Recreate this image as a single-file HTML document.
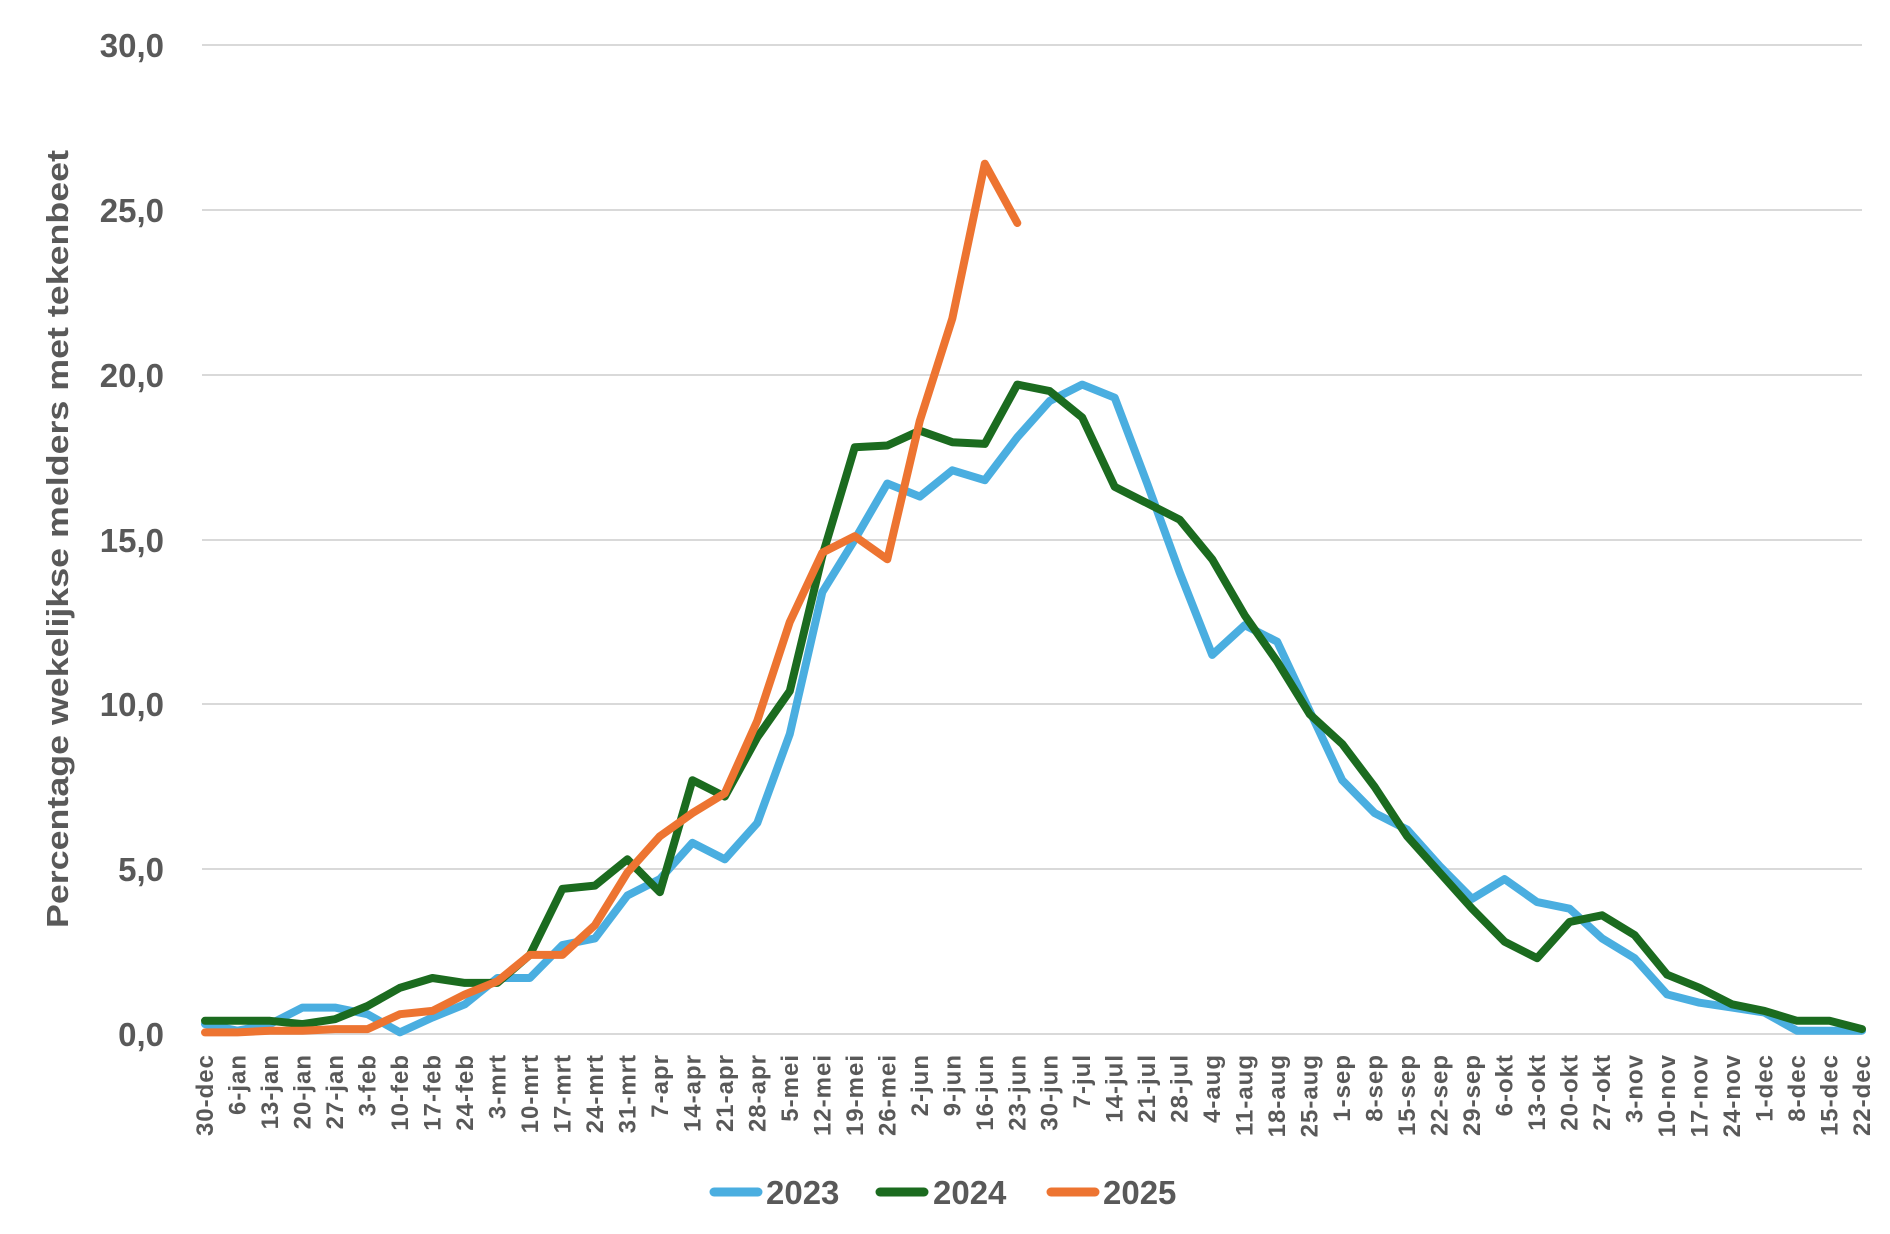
<!DOCTYPE html>
<html><head><meta charset="utf-8"><style>
html,body{margin:0;padding:0;background:#fff;}
svg{display:block;font-family:"Liberation Sans",sans-serif;}
</style></head><body>
<svg id="s" width="1890" height="1234" xmlns="http://www.w3.org/2000/svg">
<g stroke="#d9d9d9" stroke-width="2">
<line x1="202" y1="45" x2="1862" y2="45"/>
<line x1="202" y1="210" x2="1862" y2="210"/>
<line x1="202" y1="375" x2="1862" y2="375"/>
<line x1="202" y1="540" x2="1862" y2="540"/>
<line x1="202" y1="704" x2="1862" y2="704"/>
<line x1="202" y1="869" x2="1862" y2="869"/>
<line x1="202" y1="1034" x2="1862" y2="1034"/>
</g>
<g fill="#595959" font-weight="bold" font-size="33" text-anchor="end">
<text x="164" y="57">30,0</text>
<text x="164" y="222">25,0</text>
<text x="164" y="387">20,0</text>
<text x="164" y="552">15,0</text>
<text x="164" y="716">10,0</text>
<text x="164" y="881">5,0</text>
<text x="164" y="1046">0,0</text>
</g>
<text transform="translate(68,539) rotate(-90)" fill="#595959" font-weight="bold" font-size="31" text-anchor="middle" textLength="778" lengthAdjust="spacingAndGlyphs">Percentage wekelijkse melders met tekenbeet</text>
<g id="xl" fill="#595959" font-weight="bold" font-size="24" letter-spacing="1" text-anchor="end"></g>
<g id="lines" fill="none" stroke-width="8" stroke-linejoin="round" stroke-linecap="round"></g>
<g font-weight="bold" font-size="33" fill="#595959">
<line x1="714" y1="1192" x2="758" y2="1192" stroke="#4AAEE0" stroke-width="9" stroke-linecap="round"/>
<text x="766" y="1204">2023</text>
<line x1="880" y1="1192" x2="924" y2="1192" stroke="#1B6B1F" stroke-width="9" stroke-linecap="round"/>
<text x="933" y="1204">2024</text>
<line x1="1051" y1="1192" x2="1095" y2="1192" stroke="#ED7431" stroke-width="9" stroke-linecap="round"/>
<text x="1103" y="1204">2025</text>
</g>
</svg>
<script>
var labels=["30-dec","6-jan","13-jan","20-jan","27-jan","3-feb","10-feb","17-feb","24-feb","3-mrt","10-mrt","17-mrt","24-mrt","31-mrt","7-apr","14-apr","21-apr","28-apr","5-mei","12-mei","19-mei","26-mei","2-jun","9-jun","16-jun","23-jun","30-jun","7-jul","14-jul","21-jul","28-jul","4-aug","11-aug","18-aug","25-aug","1-sep","8-sep","15-sep","22-sep","29-sep","6-okt","13-okt","20-okt","27-okt","3-nov","10-nov","17-nov","24-nov","1-dec","8-dec","15-dec","22-dec"];
var x0=205,dx=(1862-205)/51;
function X(i){return x0+i*dx;}
function Y(v){return 1034-v*(1034-45)/30;}
var ns="http://www.w3.org/2000/svg";
var xl=document.getElementById("xl");
labels.forEach(function(l,i){var t=document.createElementNS(ns,"text");t.setAttribute("transform","translate("+(X(i)+8)+",1054) rotate(-90)");t.textContent=l;xl.appendChild(t);});
var d23=[0.3,0.1,0.3,0.8,0.8,0.6,0.05,0.5,0.9,1.7,1.7,2.7,2.9,4.2,4.7,5.8,5.3,6.4,9.1,13.4,15.0,16.7,16.3,17.1,16.8,18.1,19.2,19.7,19.3,16.7,14.0,11.5,12.4,11.9,9.8,7.7,6.7,6.2,5.1,4.1,4.7,4.0,3.8,2.9,2.3,1.2,0.95,0.8,0.65,0.1,0.1,0.1];
var d24=[0.4,0.4,0.4,0.3,0.45,0.85,1.4,1.7,1.55,1.55,2.4,4.4,4.5,5.3,4.3,7.7,7.2,9.0,10.4,14.5,17.8,17.85,18.3,17.95,17.9,19.7,19.5,18.7,16.6,16.1,15.6,14.4,12.7,11.3,9.7,8.8,7.5,6.0,4.9,3.8,2.8,2.3,3.4,3.6,3.0,1.8,1.4,0.9,0.7,0.4,0.4,0.15];
var d25=[0.05,0.05,0.1,0.1,0.15,0.15,0.6,0.7,1.2,1.6,2.4,2.4,3.3,4.9,6.0,6.7,7.3,9.5,12.5,14.6,15.1,14.4,18.6,21.7,26.4,24.6];
var g=document.getElementById("lines");
[[d23,"#4AAEE0"],[d24,"#1B6B1F"],[d25,"#ED7431"]].forEach(function(s){var p=document.createElementNS(ns,"polyline");p.setAttribute("points",s[0].map(function(v,i){return X(i).toFixed(1)+","+Y(v).toFixed(1);}).join(" "));p.setAttribute("stroke",s[1]);g.appendChild(p);});
</script>
</body></html>
